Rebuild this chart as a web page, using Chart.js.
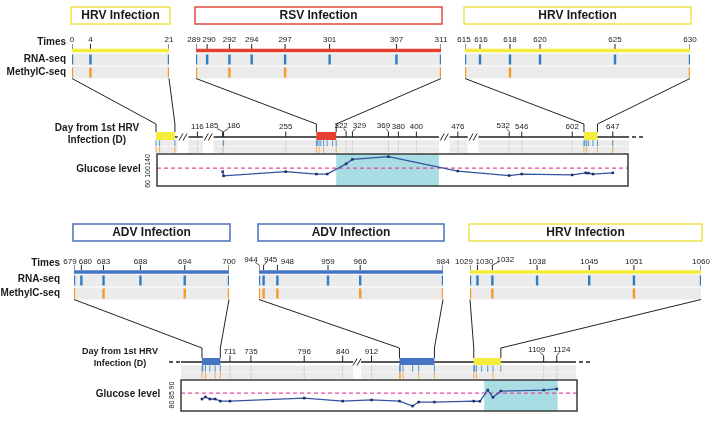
<!DOCTYPE html>
<html>
<head>
<meta charset="utf-8">
<title>Infections, sampling and glucose</title>
<style>
  html, body { margin: 0; padding: 0; background: #fff; }
  canvas { display: block; }
</style>
</head>
<body>
<canvas id="fig" width="719" height="432"></canvas>
<script src="https://cdn.jsdelivr.net/npm/chart.js"></script>
<script>
// ---------- upper panel data ----------
const p1Names = ['HRV Infection', 'RSV Infection', 'HRV Infection'];
const p1Windows = [[0, 21], [289, 311], [615, 630]];
const p1Times = [[0, 4, 21], [289, 290, 292, 294, 297, 301, 307, 311], [615, 616, 618, 620, 625, 630]];
const p1Rna = [0, 4, 21, 289, 290, 292, 294, 297, 301, 307, 311, 615, 616, 618, 620, 625, 630];
const p1Methyl = [0, 4, 21, 289, 292, 297, 311, 615, 618, 630];
const p1Days = [116, 185, 186, 255, 322, 329, 369, 380, 400, 476, 532, 546, 602, 647];
const p1ExtraRna = [186, 647];
const p1ExtraMethyl = [647];
const p1Segments = [[0, 24], [106, 122], [175, 425], [467, 487], [498, 665]];
const p1GlucoseDays = [185, 186, 255, 289, 301, 322, 329, 369, 476, 532, 546, 602, 617, 620, 625, 647];
const p1Glucose = [101, 87, 101, 93, 93, 127, 142, 151, 103, 88, 93, 90, 97, 96, 93, 97];
const p1GlucoseRange = [53, 160];
const p1GlucoseTicks = [60, 100, 140];
const p1GlucoseRef = 113;
const p1Shade = [311, 425];

// ---------- lower panel data ----------
const p2Names = ['ADV Infection', 'ADV Infection', 'HRV Infection'];
const p2Windows = [[679, 700], [944, 984], [1029, 1060]];
const p2Times = [[679, 680, 683, 688, 694, 700], [944, 945, 948, 959, 966, 984], [1029, 1030, 1032, 1038, 1045, 1051, 1060]];
const p2Rna = [679, 680, 683, 688, 694, 700, 944, 945, 948, 959, 966, 984, 1029, 1030, 1032, 1038, 1045, 1051, 1060];
const p2Methyl = [679, 683, 694, 700, 944, 945, 948, 966, 984, 1029, 1032, 1051];
const p2Days = [711, 735, 796, 840, 912, 1109, 1124];
const p2ExtraRna = [];
const p2ExtraMethyl = [];
const p2Segments = [[655, 852], [900, 1146]];
const p2GlucoseDays = [679, 683, 688, 694, 700, 711, 796, 840, 912, 944, 959, 966, 984, 1029, 1036, 1045, 1051, 1060, 1109, 1124];
const p2Glucose = [82.9, 84, 82.9, 82.9, 81.8, 81.8, 83.4, 81.8, 82.4, 81.8, 79.2, 81.3, 81.3, 81.8, 81.7, 87.6, 83.8, 87.1, 87.6, 88.2];
const p2GlucoseRange = [76.6, 92.9];
const p2GlucoseTicks = [80, 85, 90];
const p2GlucoseRef = 86;
const p2Shade = [1041, 1125];

// ---------- styles ----------
const FONT = '"Liberation Sans", Arial, Helvetica, sans-serif';
const BLUE = '#2f7dc0', ORANGE = '#f29a25', GRAY = '#ebebeb', TICKGRAY = '#cdcdcd';
const YELLOW = '#f4ec3a', RED = '#e5402f', ADV = '#4673c2';
const SHADE = '#a8dde4', REF = '#e8489b', GLU = '#34529f';
const BREAK_GAP = { x1d: 12, x2d: 9 };

// pixel extents of every axis on the page
const SCALE_PX = {
  x1a: [72, 169], x1b: [196, 441], x1c: [465, 690], x1d: [156, 629], y1g: [154, 186],
  x2a: [74, 229], x2b: [259, 443], x2c: [470, 701], x2d: [181, 576], y2g: [380, 411],
  yfig: [0, 432]
};

const PANELS = [
  {
    names: p1Names, windows: p1Windows, times: p1Times, rna: p1Rna, methyl: p1Methyl,
    days: p1Days, extraRna: p1ExtraRna, extraMethyl: p1ExtraMethyl, segments: p1Segments,
    gDays: p1GlucoseDays, gVals: p1Glucose, gRange: p1GlucoseRange, gTicks: p1GlucoseTicks,
    gRef: p1GlucoseRef, shade: p1Shade,
    colors: [YELLOW, RED, YELLOW], borders: ['#ede44c', '#e0493a', '#ede44c'],
    stripIds: ['x1a', 'x1b', 'x1c'], dayId: 'x1d', gluId: 'y1g',
    stripShift: {289: -2, 290: 2, 615: -1, 616: 1}, stripHooks: [],
    dayShift: {185: -11, 186: 10, 322: -5, 329: 7, 369: -5, 532: -6},
    dayHooks: [185, 186, 322, 329, 369, 532],
    Y: { box: [7, 24], tLabel: 40, tick: [44, 49], bar: 50.5, rna: 59.5, met: 72.5, rowH: 12,
         elbow: 124, dLabel: 127, dTick: [131.5, 137], axis: 137, dBox: 136, dBoxH: 8,
         dRna: 143.2, dMet: 149.8, dRowH: 6 },
    side: { x: 66, times: 42, rna: 59.5, met: 72.5 },
    dayLabel: { x: 97, y1: 128, y2: 140.5, size: 10 },
    gluLabel: { x: 108.5, y: 169.5 }, gTickX: 148, gBox: [157, 628],
    dashLeft: false, dashRight: true
  },
  {
    names: p2Names, windows: p2Windows, times: p2Times, rna: p2Rna, methyl: p2Methyl,
    days: p2Days, extraRna: p2ExtraRna, extraMethyl: p2ExtraMethyl, segments: p2Segments,
    gDays: p2GlucoseDays, gVals: p2Glucose, gRange: p2GlucoseRange, gTicks: p2GlucoseTicks,
    gRef: p2GlucoseRef, shade: p2Shade,
    colors: [ADV, ADV, YELLOW], borders: ['#4a72b8', '#4a72b8', '#ede44c'],
    stripIds: ['x2a', 'x2b', 'x2c'], dayId: 'x2d', gluId: 'y2g',
    stripShift: {679: -4, 680: 4, 944: -8, 945: 7, 948: 10, 1029: -6, 1030: 7, 1032: 13},
    stripHooks: [944, 945, 1032],
    dayShift: {1109: -7, 1124: 5}, dayHooks: [1109, 1124],
    Y: { box: [224, 241], tLabel: 261.5, tick: [265, 270], bar: 272, rna: 280.5, met: 293.5, rowH: 12,
         elbow: 348, dLabel: 351.5, dTick: [355.5, 362], axis: 362, dBox: 361.5, dBoxH: 7,
         dRna: 368.5, dMet: 375.5, dRowH: 6.5 },
    side: { x: 60, times: 263, rna: 279, met: 293.5 },
    dayLabel: { x: 120, y1: 352, y2: 364, size: 9 },
    gluLabel: { x: 128, y: 394 }, gTickX: 172, gBox: [181, 577],
    dashLeft: true, dashRight: true
  }
];

// linear axis with the quiet stretches cut out
class BrokenScale extends Chart.LinearScale {
  static id = 'broken';
  static defaults = {};
  segs() { return PANELS.find(p => p.dayId === this.id).segments; }
  determineDataLimits() {
    const segs = this.segs();
    let len = 0;
    segs.forEach(s => { len += s[1] - s[0]; });
    this.min = 0;
    this.max = len + BREAK_GAP[this.id] * (segs.length - 1);
  }
  squash(v) {
    let off = 0;
    const segs = this.segs();
    for (const [a, b] of segs) {
      if (v <= b) return off + Math.max(v, a) - a;
      off += b - a + BREAK_GAP[this.id];
    }
    return off - BREAK_GAP[this.id];
  }
  getPixelForValue(v) { return super.getPixelForValue(this.squash(v)); }
}
Chart.register(BrokenScale);

// ---------- datasets ----------
const datasets = [];
function addMarks(xId, xs, y, len, color, width, order, yId) {
  if (!xs.length) return;
  datasets.push({
    type: 'scatter', xAxisID: xId, yAxisID: yId || 'yfig', data: xs.map(x => ({x: x, y: y})),
    pointStyle: 'line', pointRotation: 90, pointRadius: len / 2, pointHoverRadius: len / 2,
    pointBorderColor: color, pointBorderWidth: width, order: order
  });
}
function addBand(xId, x0, x1, y, width, color, order) {
  datasets.push({
    type: 'line', xAxisID: xId, yAxisID: 'yfig', data: [{x: x0, y: y}, {x: x1, y: y}],
    borderColor: color, borderWidth: width, borderCapStyle: 'butt', pointRadius: 0, order: order
  });
}

PANELS.forEach(P => {
  const Y = P.Y;
  P.windows.forEach((w, i) => {
    const xs = P.stripIds[i];
    const inW = d => d >= w[0] && d <= w[1];
    addBand(xs, w[0], w[1], Y.rna, Y.rowH, GRAY, 20);
    addBand(xs, w[0], w[1], Y.met, Y.rowH, GRAY, 20);
    addMarks(xs, P.times[i], (Y.tick[0] + Y.tick[1]) / 2, Y.tick[1] - Y.tick[0], '#222', 1, 6);
    addBand(xs, w[0], w[1], Y.bar, 3.5, P.colors[i], 5);
    addMarks(xs, P.rna.filter(inW), Y.rna, 10, BLUE, 2.4, 2);
    addMarks(xs, P.methyl.filter(inW), Y.met, 10, ORANGE, 2.4, 2);
    addBand(P.dayId, w[0], w[1], Y.dBox, Y.dBoxH, P.colors[i], 3);
  });
  P.segments.forEach(s => {
    addBand(P.dayId, s[0], s[1], Y.axis, 1.5, '#222', 8);
    addBand(P.dayId, s[0], s[1], Y.dRna, Y.dRowH, GRAY, 20);
    addBand(P.dayId, s[0], s[1], Y.dMet, Y.dRowH, GRAY, 20);
  });
  addMarks(P.dayId, P.days, (Y.dTick[0] + Y.dTick[1]) / 2, Y.dTick[1] - Y.dTick[0], '#222', 1, 7);
  addMarks(P.dayId, P.days, Y.dRna, Y.dRowH, TICKGRAY, 0.8, 12);
  addMarks(P.dayId, P.days, Y.dMet, Y.dRowH, TICKGRAY, 0.8, 12);
  addMarks(P.dayId, P.rna.concat(P.extraRna), Y.dRna, Y.dRowH, BLUE, 0.8, 1);
  addMarks(P.dayId, P.methyl.concat(P.extraMethyl), Y.dMet, Y.dRowH, ORANGE, 0.8, 1);
  datasets.push({
    type: 'line', xAxisID: P.dayId, yAxisID: P.gluId,
    data: P.gDays.map((d, i) => ({x: d, y: P.gVals[i]})),
    borderColor: GLU, borderWidth: 1.3, tension: 0,
    pointStyle: 'rect', pointRadius: 1.8, pointBackgroundColor: '#1f2f6a',
    pointBorderColor: '#1f2f6a', pointBorderWidth: 0, order: 0
  });
});

// ---------- scales ----------
const scales = {
  x: { display: false }, y: { display: false },
  yfig: { axis: 'y', type: 'linear', display: false, reverse: true, min: 0, max: 432 }
};
PANELS.forEach(P => {
  P.windows.forEach((w, i) => {
    scales[P.stripIds[i]] = { axis: 'x', type: 'linear', display: false, min: w[0], max: w[1] };
  });
  scales[P.dayId] = { axis: 'x', type: 'broken', display: false, bounds: 'data' };
  scales[P.gluId] = { axis: 'y', type: 'linear', display: false, min: P.gRange[0], max: P.gRange[1] };
});

// put each axis on its own strip of the page
const placeScales = {
  id: 'placeScales',
  afterLayout(chart) {
    Object.keys(SCALE_PX).forEach(id => {
      const s = chart.scales[id];
      const [a, b] = SCALE_PX[id];
      if (s.isHorizontal()) { s.left = a; s.right = b; s.width = b - a; }
      else { s.top = a; s.bottom = b; s.height = b - a; }
      s.configure();
    });
  }
};

function txt(ctx, s, x, y, font, align) {
  ctx.font = font;
  ctx.textAlign = align || 'center';
  ctx.textBaseline = 'middle';
  ctx.fillStyle = '#1a1a1a';
  ctx.fillText(s, x, y);
}
function poly(ctx, pts, color, w, dash) {
  ctx.save();
  ctx.beginPath();
  ctx.moveTo(pts[0][0], pts[0][1]);
  pts.slice(1).forEach(p => ctx.lineTo(p[0], p[1]));
  ctx.strokeStyle = color || '#222';
  ctx.lineWidth = w || 1;
  ctx.setLineDash(dash || []);
  ctx.stroke();
  ctx.restore();
}
function tickLabels(ctx, scale, values, shift, hooks, yLabel, yTop) {
  values.forEach(v => {
    const x = scale.getPixelForValue(v);
    const dx = shift[v] || 0;
    const hook = hooks.indexOf(v) >= 0;
    txt(ctx, String(v), x + dx, yLabel - (hook ? 1.5 : 0), '8px ' + FONT);
    if (hook) poly(ctx, [[x, yTop], [x + dx * 0.5, yTop - 3]], '#222', 0.8);
  });
}

const figure = {
  id: 'figure',
  beforeDatasetsDraw(chart) {
    const ctx = chart.ctx;
    PANELS.forEach(P => {
      const xd = chart.scales[P.dayId], yg = chart.scales[P.gluId];
      const s0 = xd.getPixelForValue(P.shade[0]), s1 = xd.getPixelForValue(P.shade[1]);
      ctx.fillStyle = SHADE;
      ctx.fillRect(s0, yg.top, s1 - s0, yg.bottom - yg.top);
      const yr = yg.getPixelForValue(P.gRef);
      poly(ctx, [[P.gBox[0], yr], [P.gBox[1], yr]], REF, 1.2, [4, 3]);
    });
  },
  afterDatasetsDraw(chart) {
    const ctx = chart.ctx;
    PANELS.forEach(P => {
      const Y = P.Y;
      const xd = chart.scales[P.dayId], yg = chart.scales[P.gluId];
      const metBottom = Y.met + Y.rowH / 2;
      const boxTop = Y.dBox - Y.dBoxH / 2;

      P.windows.forEach((w, i) => {
        const sc = chart.scales[P.stripIds[i]];
        const a = sc.getPixelForValue(w[0]), b = sc.getPixelForValue(w[1]);
        // infection title box
        ctx.save();
        ctx.strokeStyle = P.borders[i];
        ctx.lineWidth = 1.5;
        ctx.strokeRect(a - 1, Y.box[0], b - a + 2, Y.box[1] - Y.box[0]);
        ctx.restore();
        txt(ctx, P.names[i], (a + b) / 2, (Y.box[0] + Y.box[1]) / 2 + 0.5, 'bold 12px ' + FONT);
        tickLabels(ctx, sc, P.times[i], P.stripShift, P.stripHooks, Y.tLabel, Y.tick[0]);
        // zoom connectors
        [w[0], w[1]].forEach((d, k) => {
          const sx = k ? b : a;
          const dx = xd.getPixelForValue(d);
          poly(ctx, [[sx, metBottom], [dx, Y.elbow], [dx, boxTop]], '#222', 1);
        });
      });

      // side labels
      txt(ctx, 'Times', P.side.x, P.side.times, 'bold 10px ' + FONT, 'right');
      txt(ctx, 'RNA-seq', P.side.x, P.side.rna, 'bold 10px ' + FONT, 'right');
      txt(ctx, 'MethylC-seq', P.side.x, P.side.met, 'bold 10px ' + FONT, 'right');
      txt(ctx, 'Day from 1st HRV', P.dayLabel.x, P.dayLabel.y1, 'bold ' + P.dayLabel.size + 'px ' + FONT);
      txt(ctx, 'Infection (D)', P.dayLabel.x, P.dayLabel.y2, 'bold ' + P.dayLabel.size + 'px ' + FONT);
      txt(ctx, 'Glucose level', P.gluLabel.x, P.gluLabel.y, 'bold 10px ' + FONT);

      // day axis labels
      tickLabels(ctx, xd, P.days, P.dayShift, P.dayHooks, Y.dLabel, Y.dTick[0]);

      // breaks
      for (let i = 0; i < P.segments.length - 1; i++) {
        const x = (xd.getPixelForValue(P.segments[i][1]) + xd.getPixelForValue(P.segments[i + 1][0])) / 2;
        [-2, 2].forEach(o => poly(ctx, [[x + o - 2, Y.axis + 3.5], [x + o + 2, Y.axis - 3.5]], '#222', 1));
      }
      if (P.dashRight) poly(ctx, [[xd.right + 3, Y.axis], [xd.right + 14, Y.axis]], '#222', 1.5, [4, 3]);
      if (P.dashLeft) poly(ctx, [[xd.left - 12, Y.axis], [xd.left - 1, Y.axis]], '#222', 1.5, [4, 3]);

      // glucose frame and axis labels
      ctx.save();
      ctx.strokeStyle = '#3a3a3a';
      ctx.lineWidth = 1.5;
      ctx.strokeRect(P.gBox[0], yg.top, P.gBox[1] - P.gBox[0], yg.bottom - yg.top);
      ctx.restore();
      P.gTicks.forEach(v => {
        ctx.save();
        ctx.translate(P.gTickX, yg.getPixelForValue(v));
        ctx.rotate(-Math.PI / 2);
        txt(ctx, String(v), 0, 0, '7px ' + FONT);
        ctx.restore();
      });
    });
  }
};

new Chart(document.getElementById('fig'), {
  type: 'scatter',
  data: { datasets: datasets },
  options: {
    responsive: false,
    animation: false,
    devicePixelRatio: 1,
    events: [],
    layout: { padding: 0 },
    scales: scales,
    plugins: { legend: { display: false }, tooltip: { enabled: false } }
  },
  plugins: [placeScales, figure]
});
</script>
</body>
</html>
